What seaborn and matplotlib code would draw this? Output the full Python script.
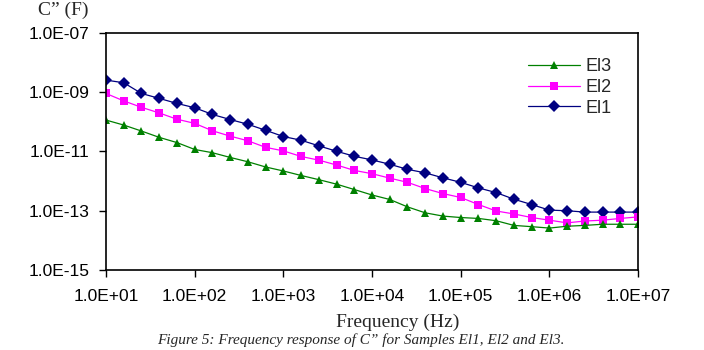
import matplotlib
matplotlib.use("Agg")
import matplotlib.pyplot as plt
import matplotlib.ticker as mticker
import seaborn as sns
import pandas as pd

# frequency points (Hz), 5 per decade
freq_hz = [10, 15.85, 25.12, 39.81, 63.10,
           100, 158.5, 251.2, 398.1, 631.0,
           1000, 1585, 2512, 3981, 6310,
           1.0e4, 1.585e4, 2.512e4, 3.981e4, 6.310e4,
           1.0e5, 1.585e5, 2.512e5, 3.981e5, 6.310e5,
           1.0e6, 1.585e6, 2.512e6, 3.981e6, 6.310e6,
           1.0e7]

# C'' (F)
el1 = [2.57e-9, 2.09e-9, 9.1e-10, 6.2e-10, 4.2e-10,
       3.0e-10, 1.78e-10, 1.2e-10, 8.3e-11, 5.2e-11,
       3.2e-11, 2.4e-11, 1.55e-11, 1.02e-11, 6.9e-12,
       5.2e-12, 3.7e-12, 2.5e-12, 1.9e-12, 1.29e-12,
       9.1e-13, 5.9e-13, 4.1e-13, 2.45e-13, 1.62e-13,
       1.05e-13, 1.0e-13, 9.0e-14, 9.0e-14, 9.0e-14,
       9.0e-14]
el2 = [9.1e-10, 5.1e-10, 3.1e-10, 2.0e-10, 1.23e-10,
       8.9e-11, 5.0e-11, 3.3e-11, 2.3e-11, 1.38e-11,
       1.05e-11, 6.8e-12, 5.1e-12, 3.5e-12, 2.3e-12,
       1.78e-12, 1.26e-12, 9.1e-13, 5.6e-13, 3.8e-13,
       2.8e-13, 1.62e-13, 9.8e-14, 7.8e-14, 5.9e-14,
       4.8e-14, 3.9e-14, 4.5e-14, 4.8e-14, 5.5e-14,
       6.2e-14]
el3 = [1.15e-10, 7.8e-11, 4.9e-11, 3.0e-11, 2.0e-11,
       1.17e-11, 9.1e-12, 6.3e-12, 4.5e-12, 3.0e-12,
       2.2e-12, 1.55e-12, 1.12e-12, 7.9e-13, 5.2e-13,
       3.4e-13, 2.4e-13, 1.35e-13, 8.5e-14, 6.6e-14,
       5.9e-14, 5.5e-14, 4.6e-14, 3.2e-14, 2.9e-14,
       2.6e-14, 3.0e-14, 3.2e-14, 3.5e-14, 3.5e-14,
       3.5e-14]

x_ticks = [1e1, 1e2, 1e3, 1e4, 1e5, 1e6, 1e7]
x_tick_labels = ["1.0E+01", "1.0E+02", "1.0E+03", "1.0E+04",
                 "1.0E+05", "1.0E+06", "1.0E+07"]
y_ticks = [1e-15, 1e-13, 1e-11, 1e-9, 1e-7]
y_tick_labels = ["1.0E-15", "1.0E-13", "1.0E-11", "1.0E-09", "1.0E-07"]

series = {"El1": el1, "El2": el2, "El3": el3}
df = pd.concat([pd.DataFrame({"freq": freq_hz, "C": v, "sample": k})
                for k, v in series.items()], ignore_index=True)

sns.set_style("white")
plt.rcParams["font.family"] = ["Liberation Sans", "DejaVu Sans"]

fig = plt.figure(figsize=(7.04, 3.5), dpi=100)
ax = fig.add_axes([0.1506, 0.2286, 0.7557, 0.6771])

palette = {"El1": "#000080", "El2": "#ff00ff", "El3": "#008000"}
markers = {"El1": "D", "El2": "s", "El3": "^"}
sns.lineplot(data=df, x="freq", y="C", hue="sample", style="sample",
             palette=palette, markers=markers, dashes=False,
             linewidth=0.9, markersize=6, markeredgewidth=0,
             ax=ax, legend=True)

ax.set_xscale("log")
ax.set_yscale("log")
ax.set_xlim(1e1, 1e7)
ax.set_ylim(1e-15, 1e-7)
ax.xaxis.set_major_locator(mticker.FixedLocator(x_ticks))
ax.xaxis.set_major_formatter(mticker.FixedFormatter(x_tick_labels))
ax.yaxis.set_major_locator(mticker.FixedLocator(y_ticks))
ax.yaxis.set_major_formatter(mticker.FixedFormatter(y_tick_labels))
ax.xaxis.set_minor_locator(mticker.NullLocator())
ax.yaxis.set_minor_locator(mticker.NullLocator())
ax.tick_params(axis="both", which="major", direction="out", length=5,
               width=1, color="black", labelsize=12.5, labelcolor="black")
ax.tick_params(axis="y", left=True, pad=7)
ax.tick_params(axis="x", bottom=True, pad=9)
for s in ax.spines.values():
    s.set_color("black")
    s.set_linewidth(1.2)

ax.set_xlabel("")
ax.set_ylabel("")

handles, labels = ax.get_legend_handles_labels()
order = ["El3", "El2", "El1"]
hmap = dict(zip(labels, handles))
ax.legend([hmap[k] for k in order], order, loc="center",
          bbox_to_anchor=(0.872, 0.77), frameon=False, fontsize=13,
          handlelength=2.9, handletextpad=0.3, labelspacing=0.2)

fig.text(0.09, 0.97, "C\u201d (F)", family=["Liberation Serif", "DejaVu Serif"],
         fontsize=14, ha="center", va="center")
fig.text(0.565, 0.078, "Frequency (Hz)", family=["Liberation Serif", "DejaVu Serif"],
         fontsize=14, ha="center", va="center")
fig.text(0.512, 0.028,
         "Figure 5: Frequency response of C\u201d for Samples El1, El2 and El3.",
         family=["Liberation Serif", "DejaVu Serif"], style="italic",
         fontsize=11, ha="center", va="center")

plt.savefig("out.png", dpi=100)
